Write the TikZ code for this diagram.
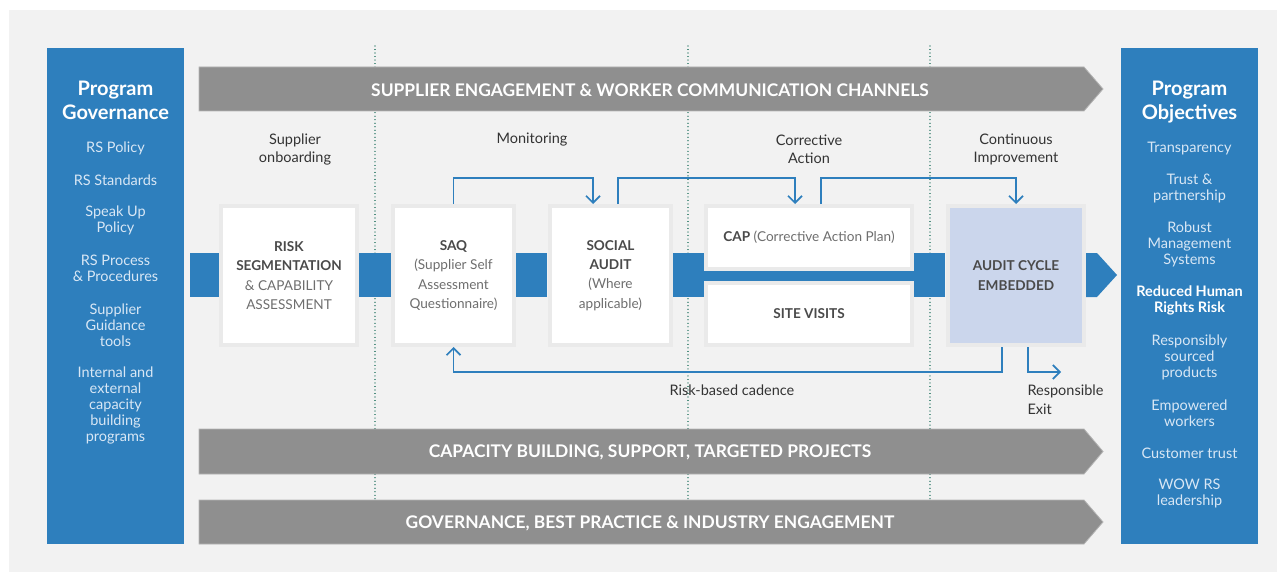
\documentclass[tikz,border=0pt]{standalone}
\usepackage{fontspec}
\setmainfont{Lato}
\usetikzlibrary{arrows.meta}
\definecolor{bgpanel}{HTML}{F2F2F2}
\definecolor{mainblue}{HTML}{2E7FBD}
\definecolor{bandgray}{HTML}{8F8F8F}
\definecolor{bandedge}{HTML}{B4B4B4}
\definecolor{halo}{HTML}{EAEAEA}
\definecolor{auditfill}{HTML}{CBD6EC}
\definecolor{dotgreen}{HTML}{2D7A68}
\definecolor{labeltext}{HTML}{333333}
\definecolor{boxbold}{HTML}{4A4A4A}
\definecolor{boxreg}{HTML}{6E6E6E}
\definecolor{paneltext}{HTML}{D8E7F5}
\begin{document}
\begin{tikzpicture}[x=1pt,y=-1pt,
  panel/.style={fill=mainblue, inner sep=0pt, anchor=north west},
  ptitle/.style={text=white, align=center, font=\bfseries\fontsize{20}{24}\selectfont},
  pitem/.style={text=paneltext, align=center, font=\fontsize{14.5}{16}\selectfont},
  band/.style={fill=bandgray, draw=bandedge, line width=0.8pt},
  bandtext/.style={text=white, font=\bfseries\fontsize{17.4}{20}\selectfont},
  phase/.style={text=labeltext, align=center, font=\fontsize{14.5}{18}\selectfont},
  wbox/.style={fill=white, draw=halo, line width=4pt, inner sep=0pt, align=center,
     text=boxbold, font=\fontsize{13.6}{19.3}\selectfont},
  conn/.style={fill=mainblue, inner sep=0pt, minimum width=#1, minimum height=44},
  flow/.style={draw=mainblue, line width=1.7pt, -{Straight Barb[length=7pt,width=14pt]}},
  dotline/.style={draw=dotgreen, line width=1.1pt, dash pattern=on 0.01pt off 3.5pt, line cap=round},
  note/.style={text=labeltext, font=\fontsize{14.5}{19}\selectfont}
]
\useasboundingbox (0,0) rectangle (1284,575);
\fill[white] (0,0) rectangle (1284,575);
\fill[bgpanel] (9,10) rectangle (1277,572);

% dotted phase separators
\draw[dotline] (375,46) -- (375,500);
\draw[dotline] (688,46) -- (688,500);
\draw[dotline] (930,46) -- (930,500);

% side panels
\node[panel, minimum width=137, minimum height=496] (gov) at (47,48) {};
\node[panel, minimum width=137, minimum height=496] (obj) at (1121,48) {};

\node[ptitle] (govt) at (115.5,100) {Program\\Governance};
\node[pitem] (g1) at (115.5,148) {RS Policy};
\node[pitem] (g2) at (115.5,180) {RS Standards};
\node[pitem] (g3) at (115.5,220) {Speak Up\\Policy};
\node[pitem] (g4) at (115.5,268) {RS Process\\\& Procedures};
\node[pitem] (g5) at (115.5,325) {Supplier\\Guidance\\tools};
\node[pitem] (g6) at (115.5,405) {Internal and\\external\\capacity\\building\\programs};

\node[ptitle] (objt) at (1189.5,102) {Program\\Objectives};
\node[pitem] (o1) at (1189.5,149) {Transparency};
\node[pitem] (o2) at (1189.5,188) {Trust \&\\partnership};
\node[pitem] (o3) at (1189.5,244) {Robust\\Management\\Systems};
\node[pitem, text=white, font=\bfseries\fontsize{14.5}{16}\selectfont] (o4) at (1189.5,300) {Reduced Human\\Rights Risk};
\node[pitem] (o5) at (1189.5,357) {Responsibly\\sourced\\products};
\node[pitem] (o6) at (1189.5,413) {Empowered\\workers};
\node[pitem] (o7) at (1189.5,453) {Customer trust};
\node[pitem] (o8) at (1189.5,493) {WOW RS\\leadership};

% gray bands
\path[band] (199,67) -- (1084,67) -- (1103,89) -- (1084,111) -- (199,111) -- cycle;
\node[bandtext] (band1) at (650,90) {SUPPLIER ENGAGEMENT \& WORKER COMMUNICATION CHANNELS};
\path[band] (199,429) -- (1084,429) -- (1103,451.5) -- (1084,474) -- (199,474) -- cycle;
\node[bandtext] (band2) at (650,452) {CAPACITY BUILDING, SUPPORT, TARGETED PROJECTS};
\path[band] (199,500) -- (1084,500) -- (1103,522) -- (1084,544) -- (199,544) -- cycle;
\node[bandtext] (band3) at (650,523) {GOVERNANCE, BEST PRACTICE \& INDUSTRY ENGAGEMENT};

% phase labels
\node[phase] (ph1) at (295,149) {Supplier\\onboarding};
\node[phase] (ph2) at (532,140) {Monitoring};
\node[phase] (ph3) at (809,149) {Corrective\\Action};
\node[phase] (ph4) at (1016,149) {Continuous\\Improvement};

% blue bar between CAP and SITE VISITS
\node[fill=mainblue, inner sep=0pt, minimum width=212, minimum height=10] (bar) at (809,276) {};

% connector blocks
\node[conn=29] (c0) at (204.5,275) {};
\node[conn=32] (c1) at (375,275) {};
\node[conn=31] (c2) at (531.5,275) {};
\node[conn=31] (c3) at (688.5,275) {};
\node[conn=31] (c4) at (929.5,275) {};
\path[fill=mainblue] (1086,253) -- (1097,253) -- (1117,275) -- (1097,297) -- (1086,297) -- cycle;

% process boxes
\node[wbox, minimum width=136, minimum height=139] (risk) at (289,275.5)
  {\textbf{RISK}\\\textbf{SEGMENTATION}\\{\color{boxreg}\& CAPABILITY}\\{\color{boxreg}ASSESSMENT}};
\node[wbox, minimum width=121, minimum height=139] (saq) at (453.5,275.5)
  {\textbf{SAQ}\\{\color{boxreg}(Supplier Self}\\{\color{boxreg}Assessment}\\{\color{boxreg}Questionnaire)}};
\node[wbox, minimum width=121, minimum height=139] (social) at (610.5,275.5)
  {\textbf{SOCIAL}\\\textbf{AUDIT}\\{\color{boxreg}(Where}\\{\color{boxreg}applicable)}};
\node[wbox, minimum width=206, minimum height=63] (cap) at (809,237.5)
  {\textbf{CAP} {\color{boxreg}(Corrective Action Plan)}};
\node[wbox, minimum width=206, minimum height=62] (site) at (809,314)
  {\textbf{SITE VISITS}};
\node[wbox, fill=auditfill, minimum width=136, minimum height=139] (audit) at (1016,275.5)
  {\textbf{AUDIT CYCLE}\\\textbf{EMBEDDED}};

% flow arrows
\draw[flow] (saq.north) -- ++(0,-26) -| ([xshift=-17.5pt]social.north);
\draw[flow] ([xshift=7.5pt]social.north) -- ++(0,-26) -| ([xshift=-14pt]cap.north);
\draw[flow] ([xshift=12pt]cap.north) -- ++(0,-26) -| (audit.north);
\draw[flow] ([xshift=-14pt]audit.south) -- ++(0,25) -| (saq.south);
\coordinate (exitend) at (1061,372);
\draw[flow] ([xshift=12pt]audit.south) |- (exitend);

% notes
\node[note] (cadence) at (732,390) {Risk-based cadence};
\node[note, align=left, anchor=west] (exit) at (1024,399.5) {Responsible\\Exit};
\end{tikzpicture}
\end{document}
